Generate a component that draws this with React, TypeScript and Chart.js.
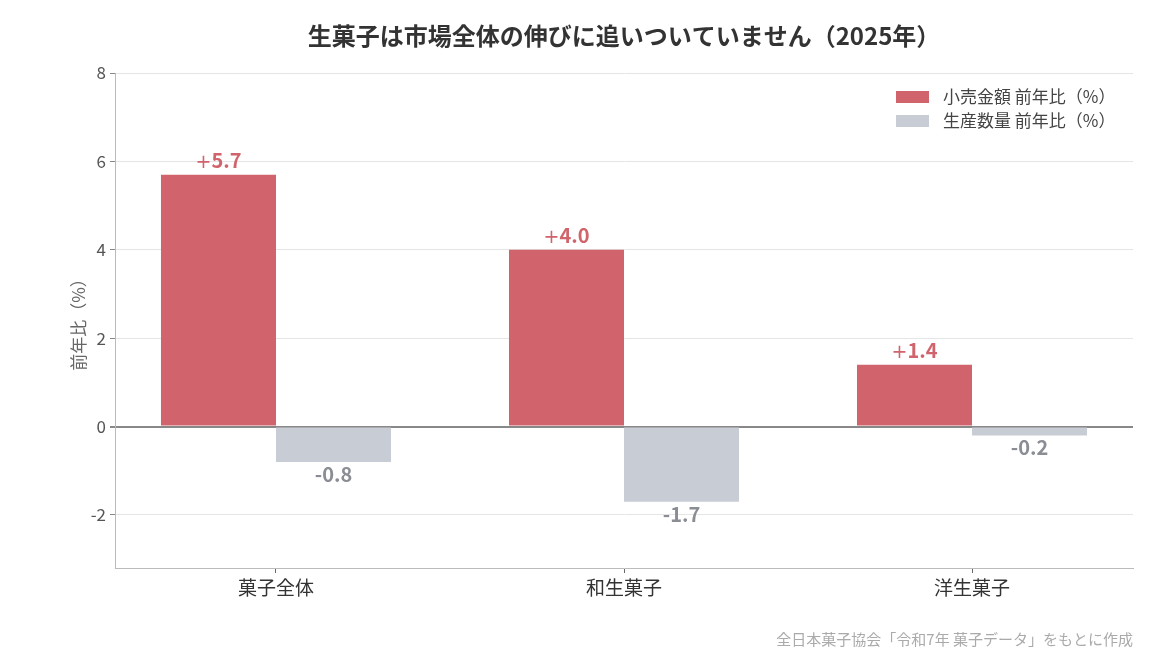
import React, { useEffect, useRef } from 'react';
import { Chart, registerables } from 'chart.js';

Chart.register(...registerables);

const FONT = "'Noto Sans CJK JP', sans-serif";
const SIGN_FONT = "'DejaVu Sans', sans-serif";

const categories = ['菓子全体', '和生菓子', '洋生菓子'];
const retailValue = [5.7, 4.0, 1.4];
const productionVolume = [-0.8, -1.7, -0.2];
const seriesNames = ['小売金額 前年比（%）', '生産数量 前年比（%）'];
const yTicks = [-2, 0, 2, 4, 6, 8];

const titleText = '生菓子は市場全体の伸びに追いついていません（2025年）';
const sourceText = '全日本菓子協会「令和7年 菓子データ」をもとに作成';

const RED = '#d0636b';
const GRAY = '#c8ccd4';
const GRAY_TEXT = '#8a8d94';

// title, legend, value labels and source note
const decorPlugin = {
    id: 'decor',
    afterDatasetsDraw(chart: any) {
        const { ctx, chartArea } = chart;
        ctx.save();

        // value labels ("+" is lighter than the digits)
        chart.data.datasets.forEach((ds: any, i: number) => {
            const meta = chart.getDatasetMeta(i);
            meta.data.forEach((bar: any, j: number) => {
                const v = ds.data[j].y;
                const sign = v > 0 ? '+' : '';
                const num = v.toFixed(1);
                ctx.textBaseline = 'alphabetic';
                ctx.textAlign = 'left';
                ctx.fillStyle = i === 0 ? RED : GRAY_TEXT;
                ctx.font = `19px ${SIGN_FONT}`;
                const sw = sign ? ctx.measureText(sign).width : 0;
                ctx.font = `bold 20px ${FONT}`;
                const nw = ctx.measureText(num).width;
                const x0 = bar.x - (sw + nw) / 2;
                const y = v >= 0 ? bar.y - 7 : bar.y + 20;
                if (sign) {
                    ctx.font = `19px ${SIGN_FONT}`;
                    ctx.fillText(sign, x0, y);
                    ctx.font = `bold 20px ${FONT}`;
                }
                ctx.fillText(num, x0 + sw, y);
            });
        });

        // title
        ctx.font = `bold 24px ${FONT}`;
        ctx.fillStyle = '#333';
        ctx.textAlign = 'center';
        ctx.textBaseline = 'middle';
        ctx.fillText(titleText, (chartArea.left + chartArea.right) / 2, 36);

        // legend
        const colors = [RED, GRAY];
        ctx.font = `17px ${FONT}`;
        ctx.textAlign = 'left';
        seriesNames.forEach((name, i) => {
            const y = 97 + i * 24;
            ctx.fillStyle = colors[i];
            ctx.fillRect(896, y - 6, 33, 12);
            ctx.fillStyle = '#444';
            ctx.fillText(name, 943, y);
        });

        // source
        ctx.font = `15px ${FONT}`;
        ctx.fillStyle = '#aaa';
        ctx.textAlign = 'right';
        ctx.fillText(sourceText, chartArea.right, 639);

        ctx.restore();
    },
};

const App: React.FC = () => {
    const canvasRef = useRef<HTMLCanvasElement>(null);
    const chartRef = useRef<Chart | null>(null);

    useEffect(() => {
        document.body.style.margin = '0';
        if (!canvasRef.current) return;
        const ctx = canvasRef.current.getContext('2d');
        if (!ctx) return;

        if (chartRef.current) {
            chartRef.current.destroy();
            chartRef.current = null;
        }

        chartRef.current = new Chart(ctx, {
            type: 'bar',
            data: {
                datasets: [
                    {
                        label: seriesNames[0],
                        data: retailValue.map((v, i) => ({ x: i, y: v })),
                        backgroundColor: RED,
                    },
                    {
                        label: seriesNames[1],
                        data: productionVolume.map((v, i) => ({ x: i, y: v })),
                        backgroundColor: GRAY,
                    },
                ],
            },
            options: {
                animation: false,
                responsive: false,
                maintainAspectRatio: false,
                layout: { padding: { left: 64, right: 17, top: 73, bottom: 0 } },
                datasets: { bar: { categoryPercentage: 0.661, barPercentage: 1.0 } },
                plugins: {
                    legend: { display: false },
                    tooltip: { enabled: false },
                },
                scales: {
                    x: {
                        type: 'linear',
                        min: -0.4626,
                        max: 2.4626,
                        offset: false,
                        afterFit: (scale: any) => { scale.height = 92; },
                        afterBuildTicks: (scale: any) => {
                            scale.ticks = categories.map((_, i) => ({ value: i }));
                        },
                        grid: {
                            offset: false,
                            drawOnChartArea: false,
                            drawTicks: true,
                            tickLength: 5,
                            tickColor: '#666',
                        },
                        border: { color: '#bbb' },
                        ticks: {
                            color: '#333',
                            padding: 3,
                            font: { family: FONT, size: 19 },
                            callback: (v: any) => categories[v] ?? '',
                        },
                    },
                    y: {
                        min: -3.2,
                        max: 8,
                        afterFit: (scale: any) => { scale.width = 51; },
                        afterBuildTicks: (scale: any) => {
                            scale.ticks = yTicks.map((v) => ({ value: v }));
                        },
                        grid: {
                            color: (c: any) => (c.tick && c.tick.value === 0 ? '#888' : '#e5e5e5'),
                            lineWidth: (c: any) => (c.tick && c.tick.value === 0 ? 2 : 1),
                            tickColor: '#888',
                            tickLength: 5,
                        },
                        border: { color: '#bbb' },
                        title: {
                            display: true,
                            text: '前年比（%）',
                            color: '#666',
                            font: { family: FONT, size: 17 },
                        },
                        ticks: {
                            color: '#555',
                            padding: 4,
                            font: { family: FONT, size: 17 },
                        },
                    },
                },
            },
            plugins: [decorPlugin],
        });

        return () => {
            if (chartRef.current) {
                chartRef.current.destroy();
                chartRef.current = null;
            }
        };
    }, []);

    return (
        <div style={{ width: 1150, height: 660 }}>
            <canvas ref={canvasRef} width={1150} height={660} style={{ display: 'block' }} />
        </div>
    );
};

export default App;
